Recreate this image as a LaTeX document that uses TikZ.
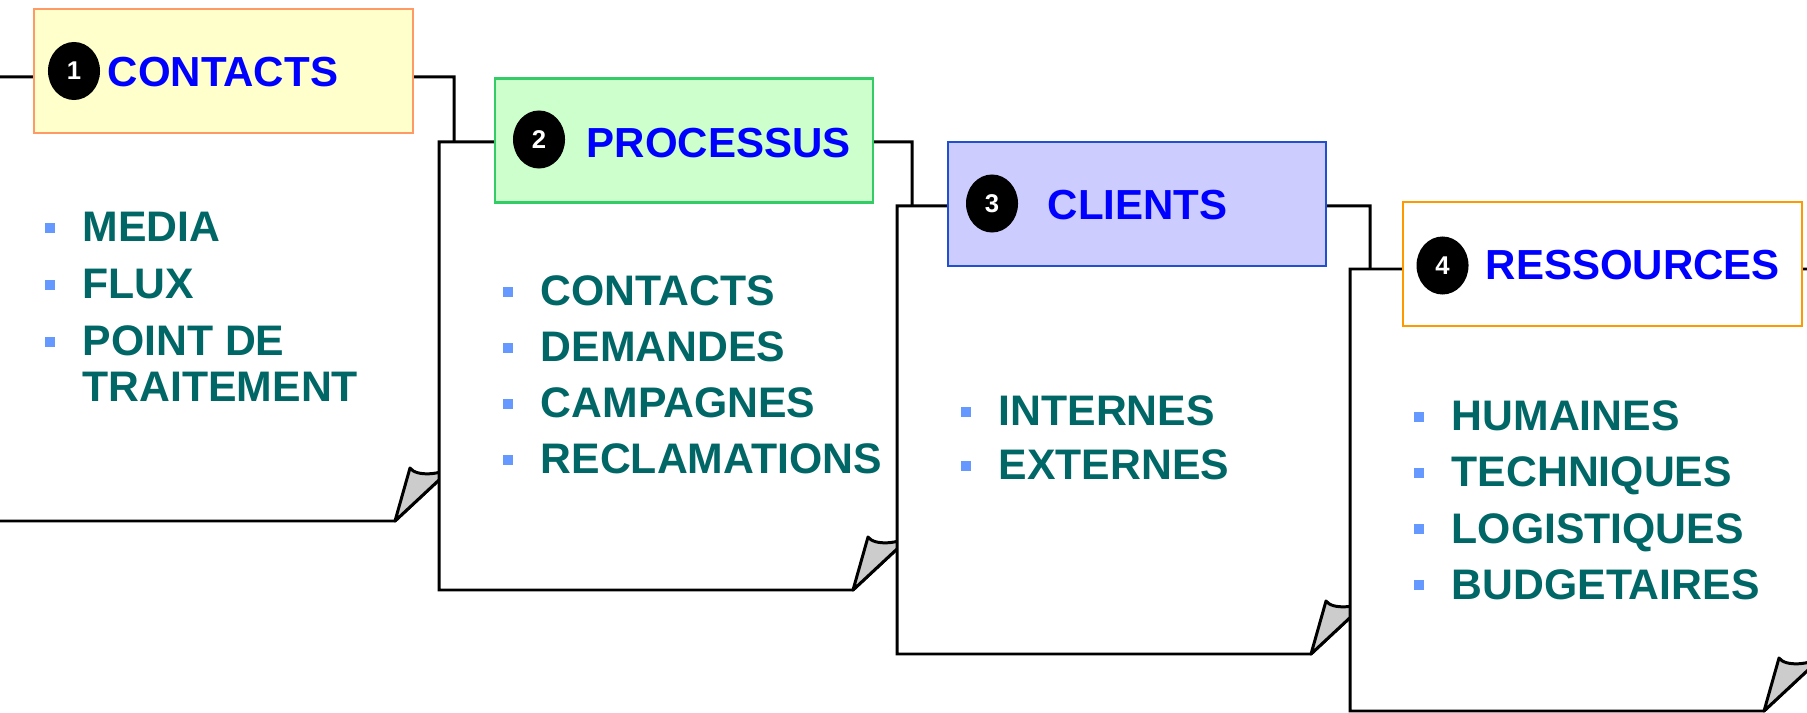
\documentclass[tikz,border=0pt]{standalone}
\usepackage{fontspec}
\setmainfont{Liberation Sans}
\usetikzlibrary{shapes.geometric}

\definecolor{hdyellow}{HTML}{FFFFCC}
\definecolor{hdorange}{HTML}{FF9966}
\definecolor{hdgreen}{HTML}{CCFFCC}
\definecolor{hdgreenline}{HTML}{33CC66}
\definecolor{hdblue}{HTML}{CCCCFF}
\definecolor{hdblueline}{HTML}{2050D0}
\definecolor{hdamber}{HTML}{FF9900}
\definecolor{titleblue}{HTML}{0000FF}
\definecolor{itemteal}{HTML}{006666}
\definecolor{bulletblue}{HTML}{6699FF}
\definecolor{foldgray}{HTML}{CCCCCC}

\tikzstyle{page}=[draw=black, line width=.85pt, fill=white]
\tikzstyle{fold}=[draw=black, line width=.85pt, fill=foldgray, line join=round]
\tikzstyle{header}=[draw, line width=.6pt, minimum width=3.78cm, minimum height=1.24cm, inner sep=0pt]
\tikzstyle{index black}=[ellipse, fill=black, text=white, inner sep=0pt, minimum width=.52cm, minimum height=.58cm, font=\bfseries\fontsize{7.3}{7.3}\selectfont]
\tikzstyle{title}=[anchor=base west, inner sep=0pt, text=titleblue, font=\bfseries\fontsize{11.95}{14}\selectfont]
\tikzstyle{item}=[anchor=base west, inner sep=0pt, text=itemteal, font=\bfseries\fontsize{12.15}{14}\selectfont]
\tikzstyle{bullet}=[fill=bulletblue, minimum size=.1cm, inner sep=0pt]

\begin{document}
\begin{tikzpicture}[x=.01cm,y=-.01cm]

    \useasboundingbox (0,0) rectangle (1807,713);
    \clip (0,0) rectangle (1807,713);

    % Pages, back to front, each with its corner turned up
    \foreach \l/\t/\b in {-19/77/521, 439/142/590, 897/206/654, 1350/269/711} {
      \draw[page] (\l,\t) -- ({\l+473},\t) -- ({\l+473},{\b-55})
      -- ({\l+414},\b) -- (\l,\b) -- cycle;
      \draw[fold] ({\l+414},\b) -- ({\l+429},{\b-53})
      .. controls ({\l+435},{\b-44}) and ({\l+461},{\b-46}) .. ({\l+473},{\b-55}) -- cycle;
    }

    % Headers
    \draw (223.5,71) node[header, fill=hdyellow, draw=hdorange] (contacts) {};
    \draw (684,140.5) node[header, fill=hdgreen, draw=hdgreenline] (processus) {};
    \draw (1137,204) node[header, fill=hdblue, draw=hdblueline] (clients) {};
    \draw (1602.5,264) node[header, fill=white, draw=hdamber, minimum width=3.99cm] (ressources) {};

    \draw (74,71) node[index black] (idx1) {1};
    \draw (539,139.5) node[index black] (idx2) {2};
    \draw (992,203.5) node[index black] (idx3) {3};
    \draw (1442.5,265.5) node[index black] (idx4) {4};

    \draw (107,87) node[title] (contacts-t) {CONTACTS};
    \draw (586,158) node[title] (processus-t) {PROCESSUS};
    \draw (1047,220) node[title] (clients-t) {CLIENTS};
    \draw (1485,280) node[title] (ressources-t) {RESSOURCES};

    % Items
    \foreach \x/\y/\name/\txt in {
      82/242/media/MEDIA, 82/299/flux/FLUX, 82/356/point/POINT DE,
      540/306/ctc/CONTACTS, 540/362/dem/DEMANDES, 540/418/camp/CAMPAGNES, 540/474/recl/RECLAMATIONS,
      998/426/int/INTERNES, 998/480/ext/EXTERNES,
      1451/431/hum/HUMAINES, 1451/487/tech/TECHNIQUES, 1451/543/log/LOGISTIQUES, 1451/599/budg/BUDGETAIRES} {
      \draw (\x,\y) node[item] (\name) {\txt};
      \draw ({\x-32},{\y-14}) node[bullet] (\name-b) {};
    }
    \draw (82,402) node[item] (traitement) {TRAITEMENT};

\end{tikzpicture}
\end{document}
